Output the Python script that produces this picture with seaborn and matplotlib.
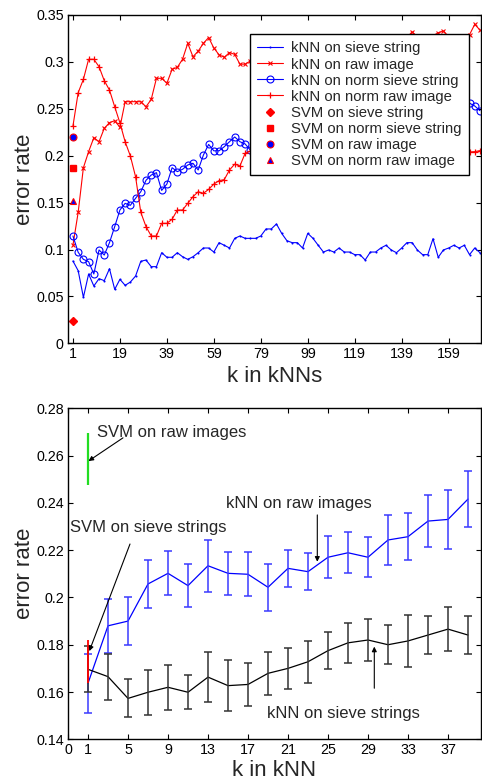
import numpy as np
import matplotlib
matplotlib.use("Agg")
import matplotlib.pyplot as plt
import seaborn as sns
from matplotlib.lines import Line2D

# ---------------- data: top panel ----------------
k_top = np.arange(1, 158, 2)  # 79 neighbourhood sizes (plotted index positions)
top_xtick_labels = ["1", "19", "39", "59", "79", "99", "119", "139", "159"]
top_ytick_vals = [0, 0.05, 0.1, 0.15, 0.2, 0.25, 0.3, 0.35]
top_ytick_labels = ["0", "0.05", "0.1", "0.15", "0.2", "0.25", "0.3", "0.35"]

knn_sieve = [0.0877, 0.0774, 0.0490, 0.0739, 0.0611, 0.0689, 0.0668, 0.0795, 0.0575, 0.0682,
             0.0618, 0.0653, 0.0717, 0.0874, 0.0888, 0.0817, 0.0817, 0.0966, 0.0917, 0.0917,
             0.0966, 0.0923, 0.0895, 0.0923, 0.0966, 0.1016, 0.1016, 0.0973, 0.1073, 0.1045,
             0.1016, 0.1119, 0.1144, 0.1119, 0.1119, 0.1119, 0.1144, 0.1219, 0.1219, 0.1272,
             0.1172, 0.1094, 0.1073, 0.1073, 0.1016, 0.1172, 0.1119, 0.1045, 0.0973, 0.0995,
             0.0973, 0.1016, 0.0973, 0.0973, 0.0945, 0.0945, 0.0888, 0.0973, 0.0973, 0.1016,
             0.1045, 0.0995, 0.0966, 0.1016, 0.1073, 0.1073, 0.0995, 0.0945, 0.0945, 0.1115,
             0.0917, 0.0995, 0.1016, 0.1045, 0.1016, 0.1045, 0.0945, 0.1016, 0.0966]

knn_raw = [0.1048, 0.1396, 0.1872, 0.2043, 0.2192, 0.2149, 0.2292, 0.2352, 0.2373, 0.2303,
           0.2576, 0.2576, 0.2576, 0.2576, 0.2522, 0.2600, 0.2825, 0.2825, 0.2772, 0.2921,
           0.2942, 0.3028, 0.3198, 0.3055, 0.3115, 0.3198, 0.3260, 0.3148, 0.3076, 0.3049,
           0.3100, 0.3080, 0.2976, 0.2976, 0.3010, 0.3050, 0.3090, 0.3060, 0.3120, 0.3150,
           0.3110, 0.3160, 0.3190, 0.3140, 0.3180, 0.3220, 0.3170, 0.3200, 0.3240, 0.3190,
           0.3220, 0.3250, 0.3210, 0.3180, 0.3230, 0.3260, 0.3220, 0.3200, 0.3240, 0.3270,
           0.3230, 0.3210, 0.3250, 0.3270, 0.3260, 0.3320, 0.3270, 0.3240, 0.3260, 0.3280,
           0.3310, 0.3330, 0.3270, 0.3250, 0.3280, 0.3260, 0.3290, 0.3400, 0.3340]

knn_norm_sieve = [0.1144, 0.0970, 0.0895, 0.0870, 0.0739, 0.0995, 0.0941, 0.1073, 0.1244, 0.1421,
                  0.1492, 0.1471, 0.1546, 0.1616, 0.1738, 0.1794, 0.1819, 0.1630, 0.1698, 0.1872,
                  0.1830, 0.1855, 0.1901, 0.1919, 0.1848, 0.2007, 0.2120, 0.2052, 0.2052, 0.2096,
                  0.2149, 0.2200, 0.2149, 0.2125, 0.2060, 0.2100, 0.2140, 0.2180, 0.2150, 0.2210,
                  0.2240, 0.2200, 0.2260, 0.2290, 0.2250, 0.2310, 0.2340, 0.2300, 0.2360, 0.2380,
                  0.2350, 0.2400, 0.2430, 0.2390, 0.2440, 0.2460, 0.2420, 0.2470, 0.2500, 0.2460,
                  0.2510, 0.2540, 0.2490, 0.2530, 0.2560, 0.2520, 0.2570, 0.2600, 0.2550, 0.2590,
                  0.2620, 0.2580, 0.2610, 0.2630, 0.2600, 0.2590, 0.2560, 0.2530, 0.2480]

knn_norm_raw = [0.2317, 0.2672, 0.2814, 0.3028, 0.3028, 0.2949, 0.2800, 0.2700, 0.2522, 0.2350,
                0.2149, 0.1997, 0.1776, 0.1396, 0.1244, 0.1144, 0.1144, 0.1279, 0.1279, 0.1322,
                0.1421, 0.1421, 0.1492, 0.1563, 0.1616, 0.1599, 0.1641, 0.1698, 0.1734, 0.1745,
                0.1848, 0.1910, 0.1890, 0.2026, 0.2050, 0.2085, 0.2125, 0.2100, 0.2150, 0.2180,
                0.2140, 0.2110, 0.2160, 0.2190, 0.2150, 0.2120, 0.2170, 0.2140, 0.2100, 0.2130,
                0.2160, 0.2120, 0.2090, 0.2130, 0.2110, 0.2080, 0.2120, 0.2150, 0.2110, 0.2090,
                0.2120, 0.2080, 0.2060, 0.2100, 0.2070, 0.2050, 0.2090, 0.2060, 0.2030, 0.2070,
                0.2050, 0.2020, 0.2060, 0.2040, 0.2010, 0.2050, 0.2040, 0.2043, 0.2054]

svm_sieve = 0.0240
svm_norm_sieve = 0.1865
svm_raw = 0.2195
svm_norm_raw = 0.1517

# ---------------- data: bottom panel ----------------
k_bot = np.arange(1, 40, 2)
bot_xtick_pos = [-1, 1, 5, 9, 13, 17, 21, 25, 29, 33, 37]
bot_xtick_labels = ["0", "1", "5", "9", "13", "17", "21", "25", "29", "33", "37"]
bot_ytick_vals = [0.14, 0.16, 0.18, 0.20, 0.22, 0.24, 0.26, 0.28]
bot_ytick_labels = ["0.14", "0.16", "0.18", "0.2", "0.22", "0.24", "0.26", "0.28"]

raw_mean = [0.1637, 0.1880, 0.1900, 0.2057, 0.2102, 0.2050, 0.2134, 0.2102, 0.2098, 0.2043,
            0.2123, 0.2109, 0.2170, 0.2189, 0.2170, 0.2243, 0.2257, 0.2323, 0.2330, 0.2416]
raw_err = [0.0125, 0.0115, 0.0103, 0.0100, 0.0093, 0.0090, 0.0110, 0.0090, 0.0093, 0.0100,
           0.0078, 0.0078, 0.0088, 0.0087, 0.0085, 0.0106, 0.0100, 0.0110, 0.0123, 0.0119]
sieve_mean = [0.1696, 0.1665, 0.1573, 0.1599, 0.1620, 0.1599, 0.1663, 0.1627, 0.1632, 0.1679,
              0.1700, 0.1728, 0.1775, 0.1808, 0.1820, 0.1800, 0.1816, 0.1841, 0.1866, 0.1841]
sieve_err = [0.0098, 0.0097, 0.0080, 0.0095, 0.0095, 0.0071, 0.0105, 0.0107, 0.0090, 0.0090,
             0.0088, 0.0088, 0.0077, 0.0084, 0.0088, 0.0083, 0.0110, 0.0079, 0.0093, 0.0080]
svm_raw_mean, svm_raw_err = 0.2584, 0.0110
svm_sieve_mean, svm_sieve_err = 0.1729, 0.0092

# ---------------- style ----------------
sns.set_style("ticks")
plt.rcParams["font.family"] = ["Liberation Sans", "DejaVu Sans"]
plt.rcParams.update({
    "xtick.direction": "in", "ytick.direction": "in",
    "xtick.major.size": 3.5, "ytick.major.size": 3.5,
    "xtick.labelsize": 10.3, "ytick.labelsize": 10.3,
    "axes.linewidth": 1.0, "xtick.color": "black", "ytick.color": "black",
    "axes.edgecolor": "black",
})

W, H = 482, 783
fig = plt.figure(figsize=(W / 100, H / 100), dpi=100)
ax1 = fig.add_axes([68 / W, 1 - 343.3 / H, 413 / W, 328.3 / H])
ax2 = fig.add_axes([68 / W, 1 - 739.3 / H, 413 / W, 331 / H])

BLUE, RED = (0, 0, 1), (1, 0, 0)

# ---- top panel ----
sns.lineplot(x=k_top, y=knn_sieve, ax=ax1, color=BLUE, lw=0.8, marker=".", markersize=3,
             markeredgewidth=0)
sns.lineplot(x=k_top, y=knn_raw, ax=ax1, color=RED, lw=0.8, marker="x", markersize=3.5,
             markeredgewidth=0.8, markeredgecolor=RED)
sns.lineplot(x=k_top, y=knn_norm_sieve, ax=ax1, color=BLUE, lw=0.8, marker="o", markersize=5,
             markerfacecolor="none", markeredgecolor=BLUE, markeredgewidth=0.8)
sns.lineplot(x=k_top, y=knn_norm_raw, ax=ax1, color=RED, lw=0.8, marker="+", markersize=5,
             markeredgewidth=0.9, markeredgecolor=RED)

x0 = k_top[0]
ax1.plot([x0], [svm_sieve], ls="none", marker="D", ms=4.2, color=RED, mec=RED)
ax1.plot([x0], [svm_norm_sieve], ls="none", marker="s", ms=4.5, color=RED, mec=RED)
ax1.plot([x0], [svm_raw], ls="none", marker="o", ms=5, mfc=BLUE, mec=RED, mew=0.8)
ax1.plot([x0], [svm_norm_raw], ls="none", marker="^", ms=5, mfc=BLUE, mec=RED, mew=0.8)

ax1.set_xlim(-0.9, 157.4)
ax1.set_ylim(0, 0.35)
ax1.set_xticks(k_top[::9])
ax1.set_xticklabels(top_xtick_labels)
ax1.set_yticks(top_ytick_vals)
ax1.set_yticklabels(top_ytick_labels)
ax1.tick_params(top=True, right=True, pad=3)
ax1.set_xlabel("k in kNNs", fontsize=16, labelpad=3)
ax1.set_ylabel("error rate", fontsize=16, labelpad=1)

handles = [
    Line2D([], [], color=BLUE, lw=0.8, marker=".", ms=3, mew=0),
    Line2D([], [], color=RED, lw=0.8, marker="x", ms=3.5, mew=0.8),
    Line2D([], [], color=BLUE, lw=0.8, marker="o", ms=5, mfc="none", mew=0.8),
    Line2D([], [], color=RED, lw=0.8, marker="+", ms=5, mew=0.9),
    Line2D([], [], ls="none", marker="D", ms=4.2, color=RED),
    Line2D([], [], ls="none", marker="s", ms=4.5, color=RED),
    Line2D([], [], ls="none", marker="o", ms=5, mfc=BLUE, mec=RED, mew=0.8),
    Line2D([], [], ls="none", marker="^", ms=5, mfc=BLUE, mec=RED, mew=0.8),
]
labels = ["kNN on sieve string", "kNN on raw image", "kNN on norm sieve string",
          "kNN on norm raw image", "SVM on sieve string", "SVM on norm sieve string",
          "SVM on raw image", "SVM on norm raw image"]
leg = ax1.legend(handles, labels, loc="upper left", bbox_to_anchor=((250 - 68) / 413, (343.3 - 34) / 328.3),
                 borderaxespad=0, fontsize=10.7, frameon=True, fancybox=False, framealpha=1,
                 edgecolor="black", handlelength=1.7, handletextpad=0.55, labelspacing=0.14,
                 borderpad=0.5)
leg.get_frame().set_linewidth(1.0)

# ---- bottom panel ----
sns.lineplot(x=k_bot, y=raw_mean, ax=ax2, color=BLUE, lw=0.9)
ax2.errorbar(k_bot, raw_mean, yerr=raw_err, fmt="none", ecolor="#3a3aff", elinewidth=1.1,
             capsize=3.2, capthick=1.1)
sns.lineplot(x=k_bot, y=sieve_mean, ax=ax2, color="black", lw=0.9)
ax2.errorbar(k_bot, sieve_mean, yerr=sieve_err, fmt="none", ecolor="#333333", elinewidth=1.1,
             capsize=3.2, capthick=1.1)
ax2.errorbar([k_bot[0]], [svm_raw_mean], yerr=[svm_raw_err], fmt="none", ecolor="#22dd22",
             elinewidth=1.6, capsize=0)
ax2.errorbar([k_bot[0]], [svm_sieve_mean], yerr=[svm_sieve_err], fmt="none", ecolor=RED,
             elinewidth=1.3, capsize=0)

ax2.set_xlim(-1, 40.3)
ax2.set_ylim(0.14, 0.28)
ax2.set_xticks(bot_xtick_pos)
ax2.set_xticklabels(bot_xtick_labels)
ax2.set_yticks(bot_ytick_vals)
ax2.set_yticklabels(bot_ytick_labels)
ax2.tick_params(top=True, right=True, pad=3)
ax2.set_xlabel("k in kNN", fontsize=16, labelpad=2)
ax2.set_ylabel("error rate", fontsize=16, labelpad=1)

arrow = dict(arrowstyle="-|>", color="black", lw=0.8, mutation_scale=7, shrinkA=0, shrinkB=0)
ax2.text(1.9, 0.2696, "SVM on raw images", fontsize=12, va="center", ha="left")
ax2.annotate("", xy=(1.05, 0.2577), xytext=(4.5, 0.2675), arrowprops=arrow)
ax2.text(-0.8, 0.2294, "SVM on sieve strings", fontsize=12, va="center", ha="left")
ax2.annotate("", xy=(1.13, 0.1773), xytext=(5.2, 0.2226), arrowprops=arrow)
ax2.text(14.8, 0.2398, "kNN on raw images", fontsize=12, va="center", ha="left")
ax2.annotate("", xy=(23.93, 0.2151), xytext=(23.93, 0.2349), arrowprops=arrow)
ax2.text(18.9, 0.1510, "kNN on sieve strings", fontsize=12, va="center", ha="left")
ax2.annotate("", xy=(29.63, 0.1792), xytext=(29.63, 0.1616), arrowprops=arrow)

fig.savefig("out.png", dpi=100)
